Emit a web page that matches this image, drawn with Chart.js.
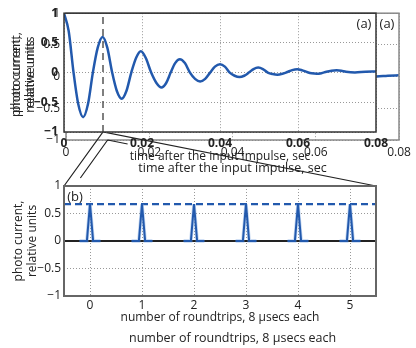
<!DOCTYPE html>
<html>
<head>
<meta charset="utf-8">
<script src="https://cdn.jsdelivr.net/npm/chart.js@4.4.0/dist/chart.umd.min.js"></script>
<style>
  body { margin: 0; background: #fff; }
  #wrap { position: relative; width: 416px; height: 348px; overflow: hidden; }
  #wrap canvas { position: absolute; left: 0; top: 0; }
  .dup { position: absolute; font-family: "Open Sans", sans-serif; color: #222; white-space: nowrap; }
</style>
</head>
<body>
<div id="wrap">
  <canvas id="copyChart" width="416" height="348"></canvas>
  <canvas id="topChart" width="416" height="348"></canvas>
  <canvas id="bottomChart" width="416" height="348"></canvas>
  <div class="dup" id="dupTitle" style="left:129px; top:329px; font-size:12.5px; line-height:18px;">number of roundtrips, 8 μsecs each</div>
</div>
<script>
// ringing after the impulse (time in ms)
const timeMs = [0, 1.2, 2.45, 3.65, 4.9, 6.15, 7.4, 8.65, 9.9, 11.1,
  12.35, 13.55, 14.8, 16.0, 17.25, 18.5, 19.7, 20.95, 22.35, 23.7,
  25.0, 26.2, 27.35, 28.5, 29.7, 31.0, 32.3, 33.6, 34.9, 36.2,
  37.45, 38.7, 40.0, 41.25, 42.5, 43.75, 45.0, 46.2, 47.4, 48.6,
  49.8, 51.0, 52.25, 53.5, 54.7, 56.0, 57.25, 58.5, 59.8, 61.0,
  62.3, 63.5, 64.8, 66.0, 67.3, 68.6, 69.9, 71.1, 72.3, 74.6,
  77.3, 80.0];
const current = [1.0, 0.70, 0, -0.53, -0.75, -0.53, 0, 0.42, 0.60, 0.42,
  0, -0.31, -0.44, -0.31, 0, 0.25, 0.36, 0.25, 0, -0.175,
  -0.25, -0.175, 0, 0.16, 0.225, 0.16, 0, -0.105, -0.15, -0.105,
  0, 0.10, 0.14, 0.10, 0, -0.053, -0.075, -0.053, 0, 0.06,
  0.085, 0.06, 0, -0.025, -0.035, -0.02, 0.01, 0.042, 0.056, 0.04,
  0.01, -0.012, -0.02, -0.01, 0.015, 0.032, 0.04, 0.032, 0.015, 0.003,
  0.015, 0.02];
const markTime = 0.01;
const timeTicks = [0, 0.02, 0.04, 0.06, 0.08];
const currentTicks = [-1, -0.5, 0, 0.5, 1];

// pulses once per roundtrip (bottom panel)
const roundtrips = [0, 1, 2, 3, 4, 5];
const pulseOffsets = [-0.2, -0.06, 0, 0.06, 0.2];
const pulseShape = [0, 0, 0.67, 0, 0];
const pulseLevel = 0.67;

const BLUE = '#2259ad';
Chart.defaults.font.family = '"Open Sans", sans-serif';
Chart.defaults.font.size = 12;
Chart.defaults.color = '#222';

const fmt = v => v === 0 ? '0' : (v < 0 ? '\u2212' : '') + Math.abs(v);
const useTicks = arr => s => { s.ticks = arr.map(v => ({ value: v })); };

const frame = {
  id: 'frame',
  afterDatasetsDraw(chart, args, opts) {
    const { ctx, chartArea: a } = chart;
    ctx.save();
    ctx.strokeStyle = opts.color;
    ctx.lineWidth = opts.width;
    ctx.strokeRect(a.left, a.top, a.right - a.left, a.bottom - a.top);
    if (opts.label) {
      ctx.fillStyle = '#222';
      ctx.font = '13px "Open Sans", sans-serif';
      ctx.textBaseline = 'middle';
      ctx.textAlign = 'center';
      const x = opts.side === 'left' ? a.left + 11 : a.right - 12;
      ctx.fillText(opts.label, x, a.top + 11);
    }
    ctx.restore();
  }
};

const whiteArea = {
  id: 'whiteArea',
  beforeDraw(chart) {
    const { ctx, chartArea: a } = chart;
    ctx.save();
    ctx.fillStyle = '#fff';
    ctx.fillRect(a.left, a.top, a.right - a.left, a.bottom - a.top);
    ctx.restore();
  }
};

function axes(o) {
  return {
    x: {
      type: 'linear', min: o.xmin, max: o.xmax,
      afterBuildTicks: useTicks(o.xticks),
      afterFit: s => { s.height = 40; },
      grid: { color: '#999', drawTicks: false },
      border: { display: false, dash: [1, 2] },
      ticks: { padding: o.xpad, font: { weight: o.bold ? 'bold' : 'normal' }, callback: v => fmt(v) },
      title: { display: true, text: o.xtitle, font: { size: o.tsize || 12 }, padding: { top: 0, bottom: o.tpad } }
    },
    y: {
      min: -1, max: 1,
      afterBuildTicks: useTicks(currentTicks),
      afterFit: s => { s.width = o.ywidth; },
      grid: { color: '#999', drawTicks: false },
      border: { display: false, dash: [1, 2] },
      ticks: { padding: o.ypad, font: { weight: o.bold ? 'bold' : 'normal' }, callback: v => fmt(v) },
      title: { display: true, text: ['photo current,', 'relative units'], padding: { top: o.ytpad, bottom: 0 } }
    }
  };
}

const curvePoints = timeMs.map((t, i) => ({ x: t / 1000, y: current[i] }));

const topChart = new Chart(document.getElementById('topChart'), {
  type: 'line',
  data: {
    datasets: [
      { data: curvePoints, borderColor: BLUE, borderWidth: 2.5, pointRadius: 0, cubicInterpolationMode: 'monotone' },
      { data: [{ x: markTime, y: -1 }, { x: markTime, y: 1 }], borderColor: '#555', borderWidth: 1.5, borderDash: [7, 5], pointRadius: 0 }
    ]
  },
  options: {
    responsive: false, animation: false, events: [],
    layout: { padding: { left: 0, right: 40, top: 13, bottom: 176 } },
    plugins: { legend: { display: false }, tooltip: { enabled: false }, frame: { color: '#333', width: 1.5, label: '(a)' } },
    scales: axes({ xmin: 0, xmax: 0.08, xticks: timeTicks, xpad: 4, tpad: 8, xtitle: 'time after the input impulse, sec', ywidth: 64, ypad: 6, ytpad: 9, bold: true })
  },
  plugins: [whiteArea, frame]
});

const pulsePoints = [];
roundtrips.forEach(k => {
  pulseOffsets.forEach((d, i) => pulsePoints.push({ x: k + d, y: pulseShape[i] }));
  pulsePoints.push({ x: k + 0.5, y: null });
});

const bottomChart = new Chart(document.getElementById('bottomChart'), {
  type: 'line',
  data: {
    datasets: [
      { data: pulsePoints, borderColor: BLUE, borderWidth: 2, pointRadius: 0, spanGaps: false },
      { data: pulsePoints, borderColor: 'rgba(120,165,225,0.45)', borderWidth: 3.5, pointRadius: 0, spanGaps: false },
      { data: [{ x: -0.5, y: pulseLevel }, { x: 5.5, y: pulseLevel }], borderColor: BLUE, borderWidth: 2.2, borderDash: [7, 4], pointRadius: 0 },
      { data: [{ x: -0.5, y: 0 }, { x: 5.5, y: 0 }], borderColor: '#222', borderWidth: 2, pointRadius: 0 }
    ]
  },
  options: {
    responsive: false, animation: false, events: [],
    layout: { padding: { left: 0, right: 40, top: 186, bottom: 12 } },
    plugins: { legend: { display: false }, tooltip: { enabled: false }, frame: { color: '#666', width: 2, label: '(b)', side: 'left' } },
    scales: axes({ xmin: -0.5, xmax: 5.5, xticks: roundtrips, xpad: 2, tpad: 11, xtitle: 'number of roundtrips, 8 \u03bcsecs each', ywidth: 64, ypad: 3, ytpad: 11 })
  },
  plugins: [frame]
});

// connecting lines from the marker in (a) to the corners of (b)
const zoomLines = {
  id: 'zoomLines',
  afterDraw(chart) {
    const ctx = chart.ctx;
    const a = topChart.chartArea, b = bottomChart.chartArea, c = chart.chartArea;
    const x0 = topChart.scales.x.getPixelForValue(markTime);
    ctx.save();
    ctx.strokeStyle = '#222';
    ctx.lineWidth = 1.2;
    ctx.beginPath();
    ctx.moveTo(b.left, b.top);
    ctx.lineTo(x0, a.bottom);
    ctx.lineTo(b.right, b.top);
    ctx.stroke();
    // shifted duplicate, mostly hidden in the source figure
    const x1 = chart.scales.x.getPixelForValue(markTime);
    const tgtY = b.top + 12;
    const tl = 0.655;
    ctx.beginPath();
    ctx.moveTo(x1, c.bottom);
    ctx.lineTo(x1 + (c.left - x1) * tl, c.bottom + (tgtY - c.bottom) * tl);
    const tr = 20 / (c.right - x1);
    ctx.moveTo(x1, c.bottom);
    ctx.lineTo(x1 + (c.right - x1) * tr, c.bottom + (tgtY - c.bottom) * tr);
    ctx.stroke();
    ctx.restore();
  }
};

const copyChart = new Chart(document.getElementById('copyChart'), {
  type: 'line',
  data: {
    datasets: [
      { data: curvePoints, borderColor: BLUE, borderWidth: 2.5, pointRadius: 0, cubicInterpolationMode: 'monotone' }
    ]
  },
  options: {
    responsive: false, animation: false, events: [],
    layout: { padding: { left: 0, right: 17, top: 13, bottom: 168 } },
    plugins: { legend: { display: false }, tooltip: { enabled: false }, frame: { color: '#888', width: 1.5, label: '(a)' } },
    scales: axes({ xmin: 0, xmax: 0.08, xticks: timeTicks, xpad: 5, tpad: 4.5, tsize: 12.5, xtitle: 'time after the input impulse, sec', ywidth: 66, ypad: 6, ytpad: 9 })
  },
  plugins: [frame, zoomLines]
});
</script>
</body>
</html>
